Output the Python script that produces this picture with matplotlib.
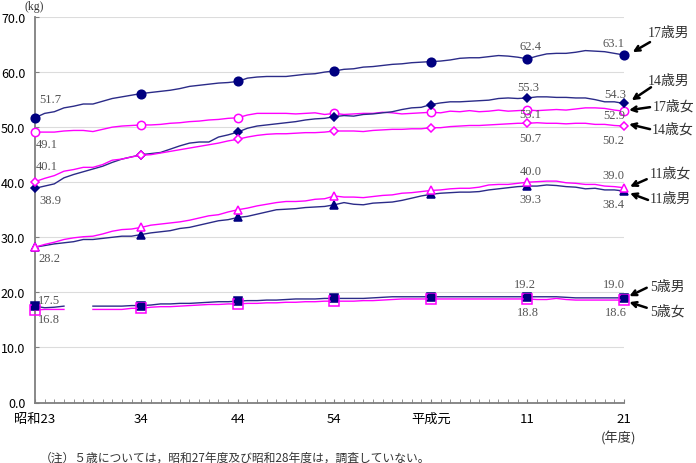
import numpy as np
import matplotlib
matplotlib.use('Agg')
import matplotlib.pyplot as plt
from matplotlib.transforms import offset_copy

plt.rcParams['font.family'] = ['Noto Sans CJK JP', 'DejaVu Sans']

years = np.arange(1948, 2010)
nan = np.nan

# 17歳男
m17 = [51.7, 52.5, 52.8, 53.5, 53.8, 54.2, 54.2, 54.7, 55.2, 55.5, 55.8, 56.1,
       56.3, 56.5, 56.7, 57.0, 57.4, 57.6, 57.8, 58.0, 58.1, 58.3,
       58.9, 59.1, 59.2, 59.2, 59.2, 59.4, 59.6, 59.7, 60.0, 60.2,
       60.5, 60.6, 60.9, 61.0, 61.2, 61.4, 61.5, 61.7, 61.8, 61.9,
       62.0, 62.2, 62.5, 62.6, 62.6, 62.8, 63.0, 62.9, 62.7, 62.4,
       62.9, 63.3, 63.4, 63.4, 63.6, 63.9, 63.8, 63.7, 63.4, 63.1]
# 17歳女
f17 = [49.1, 49.1, 49.1, 49.3, 49.4, 49.4, 49.2, 49.6, 50.0, 50.2, 50.3, 50.4,
       50.4, 50.5, 50.7, 50.8, 51.0, 51.1, 51.3, 51.4, 51.6, 51.7,
       52.2, 52.5, 52.5, 52.5, 52.5, 52.4, 52.5, 52.6, 52.3, 52.5,
       52.3, 52.4, 52.5, 52.5, 52.7, 52.6, 52.4, 52.5, 52.6, 52.7,
       52.6, 52.9, 52.8, 53.0, 52.8, 52.9, 53.1, 52.9, 53.0, 53.1,
       53.0, 53.1, 53.2, 53.1, 53.3, 53.5, 53.5, 53.4, 53.1, 52.9]
# 14歳男
m14 = [38.9, 39.3, 39.7, 40.8, 41.4, 41.9, 42.4, 42.9, 43.6, 44.2, 44.6, 45.0,
       45.2, 45.4, 46.0, 46.6, 47.1, 47.3, 47.3, 48.2, 48.6, 49.1,
       49.8, 50.2, 50.4, 50.6, 50.8, 51.0, 51.3, 51.5, 51.6, 51.9,
       52.1, 52.0, 52.3, 52.4, 52.6, 52.8, 53.2, 53.5, 53.6, 54.1,
       54.4, 54.6, 54.6, 54.7, 54.8, 54.9, 55.2, 55.3, 55.2, 55.3,
       55.5, 55.5, 55.4, 55.4, 55.3, 55.3, 55.0, 54.6, 54.6, 54.3]
# 14歳女
f14 = [40.1, 40.7, 41.2, 42.0, 42.3, 42.7, 42.7, 43.2, 44.0, 44.2, 44.6, 44.9,
       45.0, 45.3, 45.6, 45.9, 46.2, 46.5, 46.8, 47.1, 47.5, 47.8,
       48.2, 48.5, 48.7, 48.8, 48.8, 48.9, 49.0, 49.0, 49.1, 49.3,
       49.3, 49.3, 49.2, 49.4, 49.5, 49.6, 49.6, 49.7, 49.7, 49.9,
       49.9, 50.1, 50.2, 50.3, 50.3, 50.4, 50.5, 50.6, 50.7, 50.7,
       50.8, 50.7, 50.7, 50.6, 50.7, 50.7, 50.5, 50.5, 50.3, 50.2]
# 11歳男
m11 = [28.2, 28.5, 28.8, 29.0, 29.2, 29.6, 29.6, 29.8, 30.0, 30.2, 30.2, 30.5,
       30.8, 31.0, 31.2, 31.6, 31.8, 32.2, 32.6, 33.0, 33.2, 33.6,
       33.8, 34.2, 34.6, 35.0, 35.1, 35.2, 35.4, 35.5, 35.6, 35.9,
       36.3, 36.0, 35.9, 36.2, 36.3, 36.4, 36.7, 37.1, 37.5, 37.8,
       38.0, 38.1, 38.2, 38.2, 38.3, 38.6, 38.8, 39.0, 39.2, 39.3,
       39.3, 39.5, 39.4, 39.2, 39.1, 38.8, 38.9, 38.6, 38.6, 38.4]
# 11歳女
f11 = [28.2, 28.7, 29.1, 29.6, 29.9, 30.1, 30.2, 30.6, 31.1, 31.4, 31.5, 31.8,
       32.2, 32.4, 32.6, 32.8, 33.1, 33.5, 33.9, 34.1, 34.6, 35.0,
       35.3, 35.7, 36.0, 36.3, 36.5, 36.5, 36.6, 36.9, 37.0, 37.5,
       37.3, 37.3, 37.2, 37.4, 37.6, 37.7, 38.0, 38.1, 38.3, 38.5,
       38.6, 38.8, 38.9, 38.9, 39.1, 39.5, 39.6, 39.6, 39.8, 40.0,
       40.1, 40.2, 40.2, 39.9, 39.8, 39.6, 39.6, 39.3, 39.2, 39.0]
# 5歳男 (昭和27・28年度は調査なし)
m5 = [17.5, 17.2, 17.3, 17.5, nan, nan, 17.5, 17.5, 17.5, 17.5, 17.6, 17.6,
      17.7, 17.9, 17.9, 18.0, 18.0, 18.1, 18.2, 18.3, 18.3, 18.4,
      18.5, 18.5, 18.6, 18.6, 18.7, 18.8, 18.8, 18.8, 18.9, 18.9,
      18.9, 18.9, 18.9, 19.0, 19.1, 19.2, 19.2, 19.2, 19.2, 19.2,
      19.2, 19.2, 19.2, 19.2, 19.2, 19.2, 19.2, 19.2, 19.2, 19.2,
      19.2, 19.2, 19.2, 19.1, 19.0, 19.0, 19.0, 19.0, 19.0, 19.0]
# 5歳女
f5 = [16.8, 16.9, 16.9, 16.9, nan, nan, 16.9, 16.9, 16.9, 16.9, 17.1, 17.1,
      17.3, 17.4, 17.4, 17.5, 17.6, 17.7, 17.8, 17.8, 17.9, 17.9,
      18.0, 18.0, 18.1, 18.1, 18.2, 18.2, 18.3, 18.3, 18.4, 18.4,
      18.4, 18.4, 18.5, 18.5, 18.6, 18.7, 18.8, 18.8, 18.8, 18.8,
      18.8, 18.8, 18.8, 18.8, 18.8, 18.8, 18.8, 18.8, 18.8, 18.8,
      18.7, 18.7, 18.9, 18.7, 18.6, 18.6, 18.6, 18.6, 18.6, 18.6]

tick_years = [1948, 1959, 1969, 1979, 1989, 1999, 2009]
tick_labels = ['昭和23', '34', '44', '54', '平成元', '11', '21']
mark_idx = [y - 1948 for y in tick_years]

navy = '#000080'
navy_line = '#2b2b88'
mag = '#ff00ff'

fig = plt.figure(figsize=(6.96, 4.64), dpi=100)
ax = fig.add_axes([35/696, 1 - 403.5/464, 589/696, 385.5/464])

series = [
    (m17, navy_line, 'o', navy, navy, 6.2),
    (f17, mag, 'o', 'white', mag, 6),
    (m14, navy_line, 'D', navy, navy, 4.5),
    (f14, mag, 'D', 'white', mag, 4.5),
    (m11, navy_line, '^', navy, navy, 6),
    (f11, mag, '^', 'white', mag, 6),
    (m5, navy_line, 's', navy, navy, 6),
    (f5, mag, 's', 'none', mag, 6.5),
]
for vals, lc, mk, mfc, mec, ms in series:
    ax.plot(years, vals, color=lc, lw=1.0, marker=mk, markevery=mark_idx,
            mfc=mfc, mec=mec, ms=ms, mew=1.1, clip_on=False, zorder=3)
# boys' squares drawn again on top of the girls' hollow squares
ax.plot(years, m5, color='none', marker='s', markevery=mark_idx, mfc=navy,
        mec=navy, ms=4.5, clip_on=False, zorder=4)

ax.set_xlim(1948, 2009)
ax.set_ylim(0, 70)
ax.set_yticks(np.arange(0, 71, 10))
ax.set_yticklabels(['%.1f' % v for v in np.arange(0, 71, 10)], fontsize=9)
ax.set_xticks(tick_years)
ax.set_xticklabels(tick_labels, fontsize=9.5)
ax.set_xticks(years, minor=True)
ax.tick_params(axis='x', which='both', direction='in', length=3, color='#808080', pad=7)
ax.tick_params(axis='y', direction='in', length=3, color='#808080', pad=7)
ax.grid(axis='y', color='#dcdcdc', lw=0.8)
ax.set_axisbelow(True)
for s in ['top', 'right']:
    ax.spines[s].set_visible(False)
for s in ['left', 'bottom']:
    ax.spines[s].set_color('#7f7f7f')
    ax.spines[s].set_linewidth(1.3)

# value labels
vfont = dict(family=['Liberation Serif'], fontsize=9, color='#555555',
             ha='center', va='center')
value_labels = [
    (1949.55, 55.2, m17[0]), (1949.2, 47.0, f17[0]),
    (1949.2, 42.9, f14[0]), (1949.55, 36.7, m14[0]),
    (1949.45, 26.3, m11[0]), (1949.5, 18.6, m5[0]), (1949.45, 15.1, f5[0]),
    (1999.3, 64.7, m17[51]), (2007.9, 65.3, m17[61]),
    (1999.1, 57.3, m14[51]), (2008.1, 56.1, m14[61]),
    (1999.3, 52.4, f17[51]), (2008.0, 52.2, f17[61]),
    (1999.3, 48.1, f14[51]), (2007.9, 47.6, f14[61]),
    (1999.3, 42.0, f11[51]), (1999.3, 36.9, m11[51]),
    (2007.9, 41.3, f11[61]), (2007.9, 36.1, m11[61]),
    (1998.7, 21.6, m5[51]), (2008.0, 21.6, m5[61]),
    (1999.0, 16.5, f5[51]), (2008.2, 16.5, f5[61]),
]
for x, y, v in value_labels:
    ax.text(x, y, '%.1f' % v, clip_on=False, **vfont)

# series names with arrows (offsets in pixels from the last point)
names = [
    ('17歳男', m17, (8.7, 2.9), (26, 12.9), (24, 22.3)),
    ('14歳男', m14, (7.7, 3.2), (27, 16.2), (24, 23.2)),
    ('17歳女', f17, (5, 1), (26, 4), (29, 5)),
    ('14歳女', f14, (5, 1.9), (26, -3.1), (28, -2.4)),
    ('11歳女', f11, (6, 1.1), (22.7, 8.5), (26, 14.5)),
    ('11歳男', m11, (6, -2.2), (24, -8.9), (26, -7.2)),
    ('5歳男', m5, (5.3, 1.7), (22.7, 10.1), (26, 11.7)),
    ('5歳女', f5, (5.3, -2.1), (22.7, -7.7), (26, -11.1)),
]
for name, vals, head, tail, txt in names:
    pt = (years[-1], vals[-1])
    th = offset_copy(ax.transData, fig=fig, x=head[0], y=head[1], units='dots')
    tt = offset_copy(ax.transData, fig=fig, x=tail[0], y=tail[1], units='dots')
    tx = offset_copy(ax.transData, fig=fig, x=txt[0], y=txt[1], units='dots')
    ax.annotate('', xy=pt, xycoords=th, xytext=pt, textcoords=tt,
                arrowprops=dict(arrowstyle='->', color='black', lw=1.8,
                                mutation_scale=9, shrinkA=0, shrinkB=0),
                annotation_clip=False)
    ax.text(pt[0], pt[1], name, transform=tx, ha='left', va='center',
            fontsize=10, color='#333333',
            family=['Liberation Serif', 'Noto Sans CJK JP'], clip_on=False)

fig.text(34/696, 1 - 7/464, '(kg)', fontsize=8.5, color='#333333',
         ha='center', va='center', family=['Liberation Serif'])
fig.text(619/696, 1 - 439/464, '(年度)', fontsize=9.5, color='#333333',
         ha='center', va='center')
fig.text(40/696, 1 - 452/464,
         '（注）５歳については，昭和27年度及び昭和28年度は，調査していない。',
         fontsize=8.5, color='#333333', ha='left', va='top')

fig.savefig('out.png', dpi=100)
